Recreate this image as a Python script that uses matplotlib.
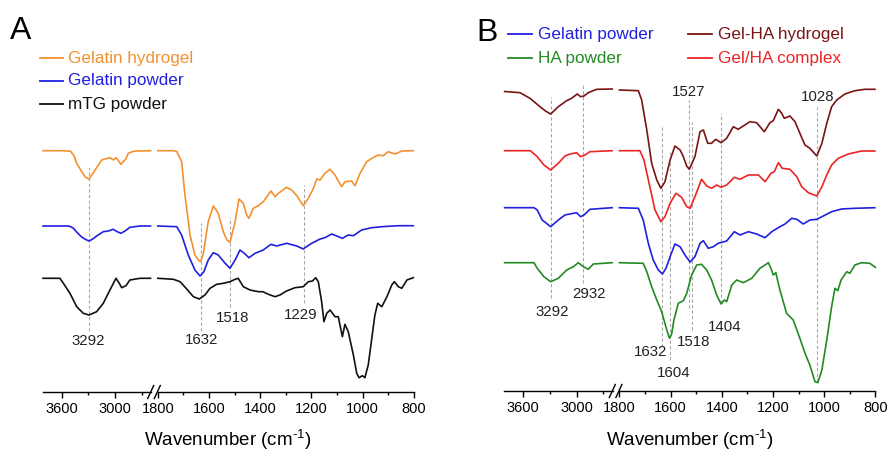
import numpy as np
import matplotlib
matplotlib.use('Agg')
import matplotlib.pyplot as plt
from matplotlib.lines import Line2D
from matplotlib.ticker import FixedLocator

plt.rcParams['font.family'] = ['Liberation Sans', 'DejaVu Sans']
plt.rcParams['mathtext.fontset'] = 'custom'
plt.rcParams['mathtext.rm'] = 'Liberation Sans'
plt.rcParams['mathtext.default'] = 'regular'

# ---- panel A spectra (wavenumber, transmittance a.u.) ----
hydrogel_wn = [3810, 3600, 3500, 3460, 3431, 3379, 3338, 3292, 3248, 3187, 3150, 3113, 3057, 3020,
               2989, 2960, 2933, 2907, 2877, 2851, 2800, 2756, 2600,
               1800, 1740, 1726, 1707, 1694, 1674, 1655, 1638, 1632, 1622, 1603, 1583, 1564, 1544,
               1530, 1518, 1498, 1483, 1466, 1453, 1444, 1427, 1407, 1388, 1358, 1342, 1329, 1297,
               1277, 1257, 1232, 1212, 1192, 1179, 1166, 1147, 1127, 1108, 1082, 1069, 1043, 1030,
               1010, 984, 964, 939, 919, 900, 873, 847, 802]
hydrogel_t = [241.3, 241.3, 240.8, 236, 228.7, 221, 215.3, 212.7, 218.7, 227, 232, 233, 234.3, 232,
              234.3, 231, 227.7, 230.3, 233, 238.7, 240.5, 241, 241.3,
              241.3, 241.3, 240.5, 230.3, 197, 157, 137, 131, 130.5, 138.7, 170.3, 186, 178.7, 160.3,
              152, 149.7, 170.3, 193, 188.7, 177, 173.7, 183.7, 186.3, 190.3, 201, 195.3, 198.7, 204.7,
              202, 196.3, 186.3, 193.7, 203.7, 213, 212, 218.7, 222.7, 217, 205.3, 210.3, 211, 206.3,
              218.7, 230.3, 233.7, 237, 236.3, 240.3, 238, 241, 241.3]

gelpowA_wn = [3810, 3520, 3470, 3435, 3379, 3330, 3292, 3250, 3207, 3132, 3076, 3020, 2975, 2933,
              2888, 2832, 2719, 2600,
              1800, 1726, 1707, 1681, 1655, 1635, 1620, 1603, 1583, 1564, 1537, 1518, 1498, 1479,
              1462, 1444, 1420, 1388, 1358, 1336, 1297, 1257, 1232, 1199, 1166, 1147, 1121, 1101,
              1079, 1056, 1036, 1004, 964, 925, 860, 802]
gelpowA_t = [166, 166, 164, 160.3, 155.3, 152.5, 151, 153, 156, 160.3, 161, 162.7, 160.3, 158.7,
             161, 164.7, 166, 166,
             166, 165.3, 157, 137, 122, 116, 120.3, 132, 139.3, 137, 128.7, 123.7, 132, 142,
             138.7, 134.3, 138.7, 142, 147.7, 146, 148.7, 146, 143, 148.7, 153, 154.3, 158, 156,
             153.7, 157, 156.3, 162, 164.3, 165.3, 166.3, 166.3]

mtg_wn = [3810, 3620, 3581, 3507, 3431, 3357, 3292, 3207, 3132, 3057, 2989, 2952, 2925, 2877,
          2832, 2719, 2600,
          1800, 1739, 1713, 1687, 1661, 1638, 1616, 1596, 1570, 1544, 1518, 1500, 1486, 1466,
          1440, 1407, 1390, 1368, 1342, 1323, 1297, 1264, 1232, 1212, 1196, 1183, 1173, 1160,
          1151, 1140, 1127, 1108, 1095, 1079, 1069, 1056, 1036, 1023, 1014, 1001, 991, 978,
          964, 952, 941, 925, 905, 886, 876, 860, 847, 827, 802]
mtg_t = [113.7, 113.7, 108.7, 98.7, 85.3, 78.7, 77, 80.3, 88.7, 102, 113.7, 108.7, 104.3, 106.3,
         112, 113.7, 113.7,
         113.7, 112.7, 110.3, 103, 95.3, 93, 97, 103.7, 107.7, 108.7, 110.3, 112.5, 113.7, 105.3,
         102, 100.3, 100.3, 97.7, 95.3, 97, 101, 104.3, 105.3, 110.3, 111, 114.3, 110.3, 90.3,
         70.3, 78.7, 82, 75.3, 75.3, 55.3, 67.7, 60.3, 37, 18.7, 14.3, 16.3, 14.3, 27,
         53.7, 77, 88.7, 85.3, 95.3, 107, 110.3, 105.3, 103.7, 112, 114.3]

# ---- panel B spectra ----
gelha_wn = [3810, 3637, 3525, 3412, 3350, 3292, 3206, 3112, 3056, 2993, 2955, 2917, 2869, 2775, 2600,
            1800, 1726, 1713, 1693, 1674, 1654, 1638, 1622, 1602, 1583, 1563, 1553, 1537, 1527,
            1505, 1485, 1472, 1455, 1440, 1424, 1403, 1381, 1355, 1336, 1290, 1264, 1234, 1212,
            1199, 1179, 1166, 1156, 1134, 1114, 1095, 1075, 1056, 1029, 1009, 990, 971, 951, 919,
            880, 841, 802]
gelha_t = [299.5, 298.3, 292.7, 284.3, 280, 277, 284.3, 290.3, 292.7, 297, 294.3, 295, 298.3, 301.7, 302,
           301, 300.3, 291, 261, 227.7, 211, 202.7, 209.3, 231, 245, 241, 236, 225, 221.7,
           234.3, 259.3, 261, 247.7, 247.7, 251.7, 248.3, 252.7, 264.3, 261.7, 269.3, 268.3, 259.3, 268.3,
           270.3, 281.7, 277.7, 272.7, 275, 269.3, 257.7, 246, 242.7, 235, 247.7, 267.7, 284.3, 291, 297,
           300.3, 301.7, 301.7]

complex_wn = [3810, 3520, 3443, 3368, 3292, 3206, 3131, 3075, 3000, 2955, 2906, 2850, 2600,
              1800, 1720, 1704, 1684, 1661, 1638, 1622, 1602, 1579, 1557, 1537, 1524, 1505, 1479,
              1459, 1440, 1420, 1403, 1381, 1351, 1329, 1296, 1257, 1231, 1208, 1195, 1179, 1164,
              1134, 1107, 1088, 1062, 1029, 1009, 990, 971, 945, 906, 854, 802]
complex_t = [240.3, 240.3, 234.3, 226, 221, 227.7, 235, 237, 238.3, 234.3, 236, 239.3, 240.3,
             240.3, 240.3, 231, 207.7, 181, 169.3, 174.3, 187.7, 197.7, 193.7, 184.3, 182.7, 194.3, 211.7,
             205, 202.7, 206, 203.7, 206, 213.7, 211.7, 216, 216, 209.3, 217.7, 219.3, 228.3, 222.7,
             221.7, 214.3, 204.3, 198.3, 195, 204.3, 216, 226, 232.7, 237, 240, 240]

gelpowB_wn = [3810, 3480, 3443, 3387, 3292, 3206, 3131, 3075, 3000, 2955, 2917, 2850, 2600,
              1800, 1726, 1707, 1687, 1668, 1648, 1632, 1618, 1602, 1583, 1563, 1544, 1524, 1505,
              1485, 1472, 1453, 1433, 1414, 1381, 1351, 1329, 1296, 1264, 1231, 1205, 1173, 1153,
              1127, 1107, 1082, 1056, 1029, 1009, 971, 932, 880, 802]
gelpowB_t = [183.3, 183.3, 181, 171, 164.3, 171, 176, 177, 178.3, 174.3, 176, 181.7, 183.3,
             183.3, 182.7, 171, 147.7, 131, 121, 117, 122.7, 134.3, 147, 144.3, 136, 129, 134.3,
             147.7, 150.3, 142.7, 144.3, 147.7, 150, 159.3, 156, 159.3, 157, 153.3, 159.3, 164.3, 167,
             172.7, 171.7, 167, 171, 171.7, 174.3, 179.3, 182, 182.7, 183.3]

ha_wn = [3810, 3480, 3443, 3368, 3292, 3206, 3112, 3037, 2981, 2925, 2869, 2812, 2600,
         1800, 1707, 1693, 1674, 1654, 1635, 1615, 1604, 1596, 1587, 1570, 1550, 1537, 1518,
         1498, 1479, 1459, 1440, 1420, 1403, 1390, 1381, 1361, 1342, 1316, 1283, 1251, 1231,
         1218, 1208, 1199, 1189, 1173, 1147, 1121, 1095, 1075, 1056, 1036, 1025, 1009, 990,
         971, 958, 947, 934, 912, 900, 880, 854, 822, 800]
ha_t = [128.3, 128.3, 122.7, 114.3, 109.3, 112.7, 121, 124.3, 128.3, 124.3, 121.7, 127, 128.3,
        128.3, 127.7, 119.3, 104.3, 91, 79.3, 61, 52.7, 57, 71, 87.7, 90.3, 97.7, 116,
        126, 126.7, 121, 111, 96, 87, 91, 89.3, 106, 111, 108.3, 112.7, 122.7, 126,
        128.3, 122.7, 116, 118.3, 101, 77.7, 71, 52.7, 37.7, 26, 9.3, 8.3, 21, 51,
        84.3, 102.7, 100.3, 111, 119.3, 117.7, 126, 128.3, 127.7, 123.7]

# peak marks: (label, wavenumber, bottom, top, label x, label y)
peaks_A = [("3292", 3292, 61, 224, 3304, 51),
           ("1632", 1632, 61, 169, 1631, 52),
           ("1518", 1518, 85, 175, 1508, 74),
           ("1229", 1229, 89, 207, 1241, 77)]
peaks_B = [("3292", 3292, 93, 294, 3272, 79),
           ("2932", 2932, 108, 308, 2861, 97),
           ("1632", 1632, 44, 264, 1679, 39),
           ("1604", 1604, 31, 239, 1589, 18),
           ("1527", 1527, 83, 291, 1528, 299),
           ("1518", 1518, 61, 269, 1509, 49),
           ("1404", 1404, 88, 278, 1387, 64),
           ("1028", 1028, 9, 284, 1027, 294)]

c_orange = '#F4912F'
c_blue = '#2020E0'
c_black = '#111111'
c_wine = '#7A1414'
c_red = '#EC2424'
c_green = '#238A23'

W, H = 890, 454
fig = plt.figure(figsize=(8.9, 4.54), dpi=100)


def box(x0, x1, ybase, ytop):
    return [x0 / W, 1 - ybase / H, (x1 - x0) / W, (ybase - ytop) / H]


def fline(x0, y0, x1, y1, **kw):
    fig.add_artist(Line2D([x0 / W, x1 / W], [1 - y0 / H, 1 - y1 / H],
                          transform=fig.transFigure, **kw))


def ftext(x, y, s, **kw):
    fig.text(x / W, 1 - y / H, s, **kw)


def panel(dx, ybase, ytop, curves, peaks):
    ax_l = fig.add_axes(box(42.7 + dx, 151 + dx, ybase, ytop))
    ax_r = fig.add_axes(box(157.8 + dx, 413.8 + dx, ybase, ytop))
    for ax in (ax_l, ax_r):
        ax.set_ylim(0, ybase - ytop)
        for s in ('left', 'right', 'top'):
            ax.spines[s].set_visible(False)
        ax.spines['bottom'].set_linewidth(1.0)
        ax.set_yticks([])
        ax.patch.set_alpha(0)
        ax.tick_params(axis='x', which='major', direction='out', length=4, width=1.0,
                       labelsize=10.5, pad=3)
        ax.tick_params(axis='x', which='minor', direction='out', length=2.5, width=1.0)
    ax_l.set_xlim(3813.7, 2595)
    ax_r.set_xlim(1800, 800)
    ax_l.xaxis.set_major_locator(FixedLocator([3600, 3000]))
    ax_l.xaxis.set_minor_locator(FixedLocator([3300, 2700]))
    ax_r.xaxis.set_major_locator(FixedLocator([1800, 1600, 1400, 1200, 1000, 800]))
    ax_r.xaxis.set_minor_locator(FixedLocator([1700, 1500, 1300, 1100, 900]))

    for lab, w, y0, y1, lx, ly in peaks:
        ax = ax_l if w > 2000 else ax_r
        ax.plot([w, w], [y0, y1], color='#A8A8A8', lw=0.8, ls=(0, (3, 2)), zorder=1)
        ax.text(lx, ly, lab, ha='center', va='center', fontsize=10.8, color='#222222')

    for wn, t, col in curves:
        wn = np.array(wn)
        t = np.array(t)
        hi = wn > 2000
        ax_l.plot(wn[hi], t[hi], color=col, lw=1.2, zorder=3, clip_on=False,
                  solid_joinstyle='round')
        ax_r.plot(wn[~hi], t[~hi], color=col, lw=1.2, zorder=3, clip_on=False,
                  solid_joinstyle='round')

    # axis break marks
    for xc in (150.7 + dx, 157.3 + dx):
        fline(xc - 3, ybase + 6.5, xc + 3, ybase - 6.5, color='black', lw=1.0)

    ftext(228 + dx, 440, r'Wavenumber (cm$^{\text{-1}}$)', ha='center', va='center',
          fontsize=13.5)


panel(0, 392, 130,
      [(hydrogel_wn, hydrogel_t, c_orange),
       (gelpowA_wn, gelpowA_t, c_blue),
       (mtg_wn, mtg_t, c_black)],
      peaks_A)
panel(461.6, 391, 80,
      [(gelha_wn, gelha_t, c_wine),
       (complex_wn, complex_t, c_red),
       (gelpowB_wn, gelpowB_t, c_blue),
       (ha_wn, ha_t, c_green)],
      peaks_B)

# panel letters
ftext(10, 31, 'A', ha='left', va='center', fontsize=23)
ftext(476, 33, 'B', ha='left', va='center', fontsize=23)

# legends
legend_A = [('Gelatin hydrogel', c_orange, 58.3),
            ('Gelatin powder', c_blue, 80.7),
            ('mTG powder', c_black, 104)]
for name, col, y in legend_A:
    fline(40, y, 63, y, color=col, lw=1.3)
    ftext(68, y, name, ha='left', va='center', fontsize=12.3, color=col)

legend_B = [('Gelatin powder', c_blue, 508.3, 34.3),
            ('HA powder', c_green, 508.3, 58.3),
            ('Gel-HA hydrogel', c_wine, 688.3, 34.3),
            ('Gel/HA complex', c_red, 688.3, 58.3)]
for name, col, x, y in legend_B:
    fline(x, y, x + 23.5, y, color=col, lw=1.3)
    ftext(x + 29.5, y, name, ha='left', va='center', fontsize=12.3, color=col)

fig.savefig('out.png', dpi=100)
